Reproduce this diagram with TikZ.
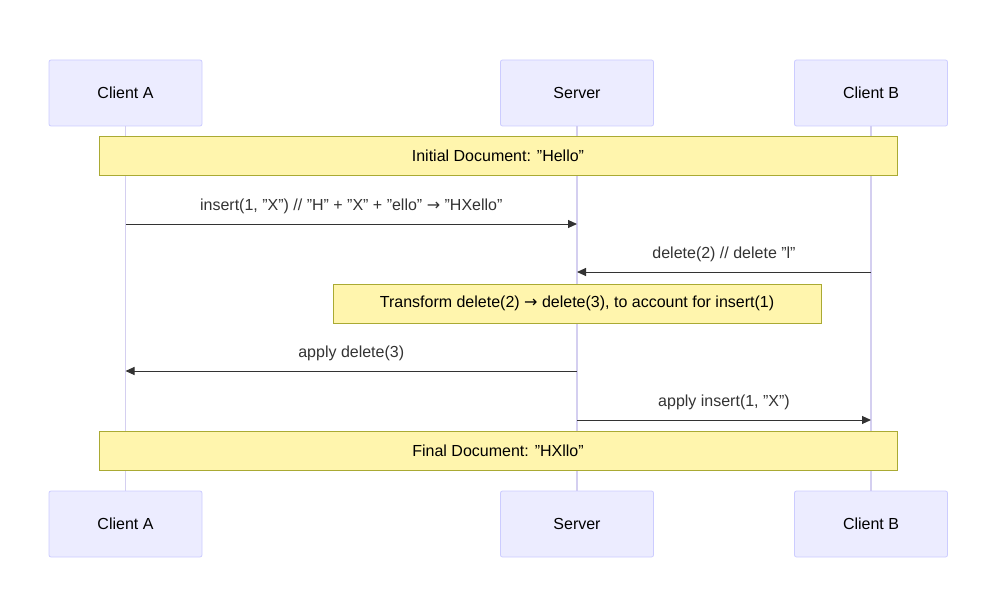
\documentclass[tikz,border=0pt]{standalone}
\usepackage{fontspec}
\setmainfont{Liberation Sans}
\newfontfamily\arrowfont{DejaVu Sans}
\newcommand{\rarr}{{\arrowfont →}}
\usetikzlibrary{arrows.meta}
\definecolor{actfill}{HTML}{ECECFF}
\definecolor{actline}{HTML}{CCCCFF}
\definecolor{notefill}{HTML}{FFF5AD}
\definecolor{noteline}{HTML}{AAAA33}
\definecolor{life}{HTML}{D4CFF0}
\begin{document}
\begin{tikzpicture}[x=1pt,y=-1pt,
  actor/.style={draw=actline,fill=actfill,rounded corners=2pt,minimum width=153pt,minimum height=66pt,font=\fontsize{16}{19}\selectfont,line width=0.8pt},
  note/.style={draw=noteline,fill=notefill,minimum height=39pt,font=\fontsize{16}{19}\selectfont,line width=0.8pt},
  msg/.style={-{Triangle[length=9pt,width=8pt]},line width=1pt,draw=black!80},
  lbl/.style={font=\fontsize{16}{19}\selectfont,text=black!80},
  lifeline/.style={draw=life,line width=1.3pt}]
\useasboundingbox (0,0) rectangle (998,596);
% lifelines
\coordinate (a1) at (125.5,126); \coordinate (a2) at (125.5,491);
\coordinate (s1) at (577,126); \coordinate (s2) at (577,491);
\coordinate (b1) at (871,126); \coordinate (b2) at (871,491);
\draw[lifeline] (a1) -- (a2); \draw[lifeline] (s1) -- (s2); \draw[lifeline] (b1) -- (b2);
\node[actor] (cat) at (125.5,93) {Client A};
\node[actor] (st) at (577,93) {Server};
\node[actor] (cbt) at (871,93) {Client B};
\node[actor] (cab) at (125.5,524) {Client A};
\node[actor] (sb) at (577,524) {Server};
\node[actor] (cbb) at (871,524) {Client B};
\node[note,minimum width=798pt] (n1) at (498,156) {Initial Document: "Hello"};
\node[note,minimum width=488pt] (n2) at (577,303.5) {Transform delete(2) \rarr{} delete(3), to account for insert(1)};
\node[note,minimum width=798pt] (n3) at (498,450.5) {Final Document: "HXllo"};
% messages
\coordinate (m1a) at (125.5,224); \coordinate (m1b) at (577,224);
\coordinate (m2a) at (871,272); \coordinate (m2b) at (577,272);
\coordinate (m3a) at (577,371); \coordinate (m3b) at (125.5,371);
\coordinate (m4a) at (577,420); \coordinate (m4b) at (871,420);
\draw[msg] (m1a) -- node[lbl,above=6pt] (l1) {insert(1, "X") // "H" + "X" + "ello" \rarr{} "HXello"} (m1b);
\draw[msg] (m2a) -- node[lbl,above=6pt] (l2) {delete(2) // delete "l"} (m2b);
\draw[msg] (m3a) -- node[lbl,above=6pt] (l3) {apply delete(3)} (m3b);
\draw[msg] (m4a) -- node[lbl,above=6pt] (l4) {apply insert(1, "X")} (m4b);
\end{tikzpicture}
\end{document}
